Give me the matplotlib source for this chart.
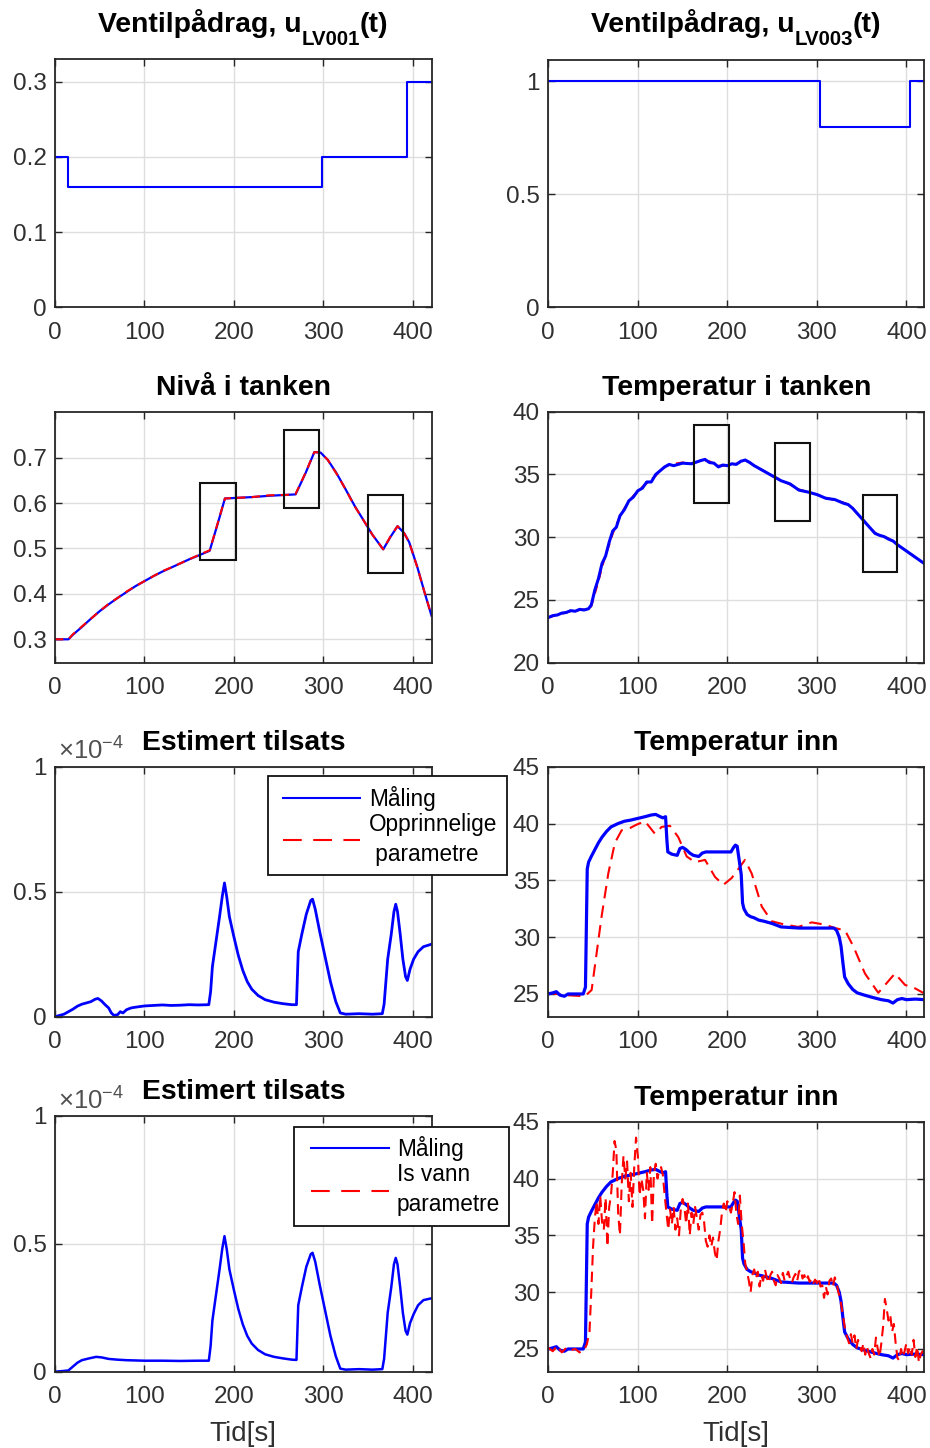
import matplotlib
matplotlib.use("Agg")
import matplotlib.pyplot as plt
import numpy as np
from matplotlib.ticker import FuncFormatter, FixedLocator
from matplotlib.patches import Rectangle
from matplotlib.lines import Line2D
from matplotlib.legend_handler import HandlerLine2D
import matplotlib.transforms as mtransforms

plt.rcParams['font.family'] = ['Liberation Sans', 'DejaVu Sans']
plt.rcParams['mathtext.fontset'] = 'custom'
plt.rcParams['mathtext.rm'] = 'Liberation Sans'
plt.rcParams['mathtext.bf'] = 'Liberation Sans:bold'
plt.rcParams['mathtext.it'] = 'Liberation Sans:italic'

# ---------------- data ----------------
xticks = [0, 100, 200, 300, 400]

title_u1 = ("Ventilpådrag, u", "LV001", "(t)")
title_u3 = ("Ventilpådrag, u", "LV003", "(t)")

u1_times = [0, 15, 298, 394, 421]
u1_vals = [0.2, 0.16, 0.2, 0.3, 0.3]
u3_times = [0, 304, 404, 420]
u3_vals = [1.0, 0.8, 1.0, 1.0]

level_t = [0, 15, 20, 30, 40, 50, 60, 70, 80, 90, 100, 110, 120, 130, 140, 150, 160, 173,
           182, 190, 200, 220, 240, 260, 269, 280, 290, 297, 305, 315, 325, 335, 345, 355,
           367, 375, 383, 390, 396, 405, 413, 421]
level_meas = [0.300, 0.300, 0.310, 0.327, 0.345, 0.362, 0.377, 0.391, 0.404, 0.417, 0.428,
              0.439, 0.449, 0.458, 0.467, 0.476, 0.484, 0.495, 0.555, 0.610, 0.611, 0.613,
              0.616, 0.618, 0.619, 0.665, 0.712, 0.711, 0.695, 0.665, 0.630, 0.594, 0.562,
              0.530, 0.498, 0.525, 0.549, 0.535, 0.514, 0.460, 0.405, 0.352]
level_sim = [0.300, 0.300, 0.311, 0.328, 0.345, 0.362, 0.378, 0.391, 0.405, 0.417, 0.428,
             0.439, 0.450, 0.458, 0.467, 0.476, 0.485, 0.496, 0.556, 0.610, 0.611, 0.613,
             0.617, 0.618, 0.620, 0.666, 0.712, 0.711, 0.695, 0.664, 0.630, 0.593, 0.562,
             0.530, 0.498, 0.526, 0.549, 0.535, 0.514, 0.459, 0.405, 0.352]
level_rect_x = [(162, 202), (256, 295), (350, 389)]
level_rect_y = [(0.475, 0.645), (0.59, 0.76), (0.447, 0.618)]

tank_t = [0, 5, 10, 15, 20, 25, 30, 35, 40, 45, 48, 52, 56, 60, 64, 68, 72, 76, 80, 85, 90,
          95, 100, 105, 110, 115, 120, 125, 130, 135, 140, 150, 160, 170, 175, 180, 185, 190,
          195, 200, 205, 210, 215, 220, 225, 230, 240, 250, 260, 270, 280, 290, 300, 310,
          320, 330, 335, 340, 345, 350, 355, 360, 365, 370, 375, 380, 385, 390, 400, 410, 420]
tank_meas = [23.6, 23.75, 23.8, 23.95, 24.0, 24.15, 24.1, 24.25, 24.2, 24.3, 24.6, 25.8, 26.7,
             27.9, 28.5, 29.6, 30.5, 30.8, 31.7, 32.2, 32.9, 33.2, 33.7, 33.9, 34.4, 34.4,
             35.0, 35.3, 35.6, 35.8, 35.7, 35.9, 35.85, 36.1, 36.2, 35.95, 35.9, 35.6, 35.75,
             35.7, 35.85, 35.8, 36.05, 36.15, 35.95, 35.7, 35.3, 34.9, 34.5, 34.25, 33.75,
             33.6, 33.4, 33.1, 33.0, 32.7, 32.6, 32.3, 31.9, 31.5, 31.1, 30.7, 30.3, 30.15,
             30.05, 29.85, 29.7, 29.4, 28.9, 28.4, 27.9]
tank_sim = [23.6, 23.7, 23.85, 23.9, 24.0, 24.1, 24.15, 24.2, 24.25, 24.3, 24.5, 25.5, 26.5,
            27.6, 28.6, 29.4, 30.3, 31.0, 31.6, 32.3, 32.8, 33.3, 33.6, 34.0, 34.3, 34.6,
            34.9, 35.3, 35.6, 35.75, 35.85, 35.95, 35.9, 36.05, 36.1, 36.05, 35.85, 35.7,
            35.7, 35.75, 35.8, 35.85, 36.0, 36.1, 35.95, 35.7, 35.3, 34.9, 34.55, 34.2, 33.8,
            33.6, 33.4, 33.15, 32.95, 32.75, 32.6, 32.3, 31.9, 31.5, 31.1, 30.7, 30.35, 30.15,
            30.05, 29.9, 29.65, 29.4, 28.9, 28.4, 27.9]
tank_rect_x = [(162.6, 201.7), (253, 292), (351.6, 389.9)]
tank_rect_y = [(32.75, 38.94), (31.29, 37.48), (27.2, 33.36)]

# estimated additive, units of 1e-4
tilsats_scale = 1e-4
tils1_t = [0, 5, 10, 15, 20, 25, 30, 35, 40, 45, 48, 52, 56, 60, 63, 66, 70, 73, 76, 80, 85,
           90, 100, 110, 120, 130, 140, 150, 160, 172, 174, 176, 180, 184, 187, 189.5, 192,
           195, 200, 205, 210, 215, 220, 227, 235, 245, 255, 265, 270, 272, 276, 281, 286,
           288, 291, 296, 302, 308, 314, 319, 325, 340, 355, 366, 368, 372, 376, 379, 381,
           383, 386, 389, 392, 394, 397, 401, 406, 412, 421]
tils1_v = [0.0, 0.005, 0.01, 0.02, 0.03, 0.042, 0.05, 0.055, 0.06, 0.07, 0.073, 0.063, 0.048,
           0.035, 0.015, 0.005, 0.008, 0.02, 0.015, 0.028, 0.035, 0.038, 0.043, 0.045, 0.047,
           0.045, 0.046, 0.048, 0.047, 0.048, 0.1, 0.2, 0.3, 0.4, 0.48, 0.535, 0.48, 0.4,
           0.32, 0.245, 0.185, 0.14, 0.11, 0.085, 0.068, 0.058, 0.052, 0.048, 0.048, 0.26,
           0.33, 0.41, 0.465, 0.47, 0.43, 0.34, 0.24, 0.14, 0.06, 0.015, 0.01, 0.012, 0.01,
           0.012, 0.05, 0.23, 0.33, 0.42, 0.45, 0.42, 0.33, 0.23, 0.16, 0.145, 0.19, 0.23,
           0.26, 0.28, 0.29]
tils2_t = [0, 10, 15, 20, 25, 30, 38, 46, 52, 60, 70, 80, 90, 100, 120, 140, 160, 172, 174,
           176, 180, 184, 187, 189.5, 192, 195, 200, 205, 210, 215, 220, 227, 235, 245, 255,
           265, 270, 272, 276, 281, 286, 288, 291, 296, 302, 308, 314, 319, 325, 340, 355,
           366, 368, 372, 376, 379, 381, 383, 386, 389, 392, 394, 397, 401, 406, 412, 421]
tils2_v = [0.0, 0.003, 0.005, 0.02, 0.035, 0.045, 0.052, 0.058, 0.056, 0.05, 0.047, 0.045,
           0.044, 0.043, 0.043, 0.042, 0.043, 0.043, 0.1, 0.2, 0.3, 0.4, 0.48, 0.53, 0.48,
           0.4, 0.32, 0.245, 0.185, 0.14, 0.11, 0.085, 0.068, 0.058, 0.052, 0.047, 0.046,
           0.26, 0.33, 0.41, 0.46, 0.465, 0.43, 0.34, 0.24, 0.14, 0.06, 0.012, 0.008, 0.01,
           0.008, 0.01, 0.05, 0.23, 0.33, 0.42, 0.445, 0.42, 0.33, 0.23, 0.16, 0.145, 0.19,
           0.225, 0.26, 0.28, 0.287]

tin_t = [0, 5, 9, 13, 18, 22, 30, 39, 41.5, 43.5, 45, 48, 52, 56, 60, 65, 70, 78, 85, 92, 100,
         108, 115, 120, 125, 128, 131, 132.5, 133.5, 138, 144, 147, 150, 154, 158, 162, 168,
         172, 176, 185, 195, 204, 207, 209, 211, 213, 215.5, 217, 218.5, 222, 226, 230, 235,
         241, 250, 260, 270, 280, 290, 300, 310, 319, 322, 325, 327, 329, 331, 335, 340, 345,
         353, 362, 372, 380, 385, 390, 395, 400, 410, 420]
tin_meas = [25.0, 25.1, 25.2, 24.9, 24.8, 25.0, 25.0, 25.0, 25.6, 36.0, 36.6, 37.1, 37.7,
            38.3, 38.8, 39.3, 39.7, 40.0, 40.2, 40.3, 40.45, 40.6, 40.75, 40.8, 40.6, 40.5,
            40.6, 38.5, 37.5, 37.3, 37.2, 37.8, 37.9, 37.7, 37.4, 37.2, 37.1, 37.4, 37.5,
            37.5, 37.5, 37.5, 37.9, 38.1, 38.0, 36.9, 35.5, 33.0, 32.5, 32.0, 31.8, 31.7,
            31.5, 31.4, 31.2, 30.9, 30.85, 30.8, 30.8, 30.8, 30.8, 30.8, 30.6, 30.0, 29.2,
            27.8, 26.5, 25.9, 25.4, 25.1, 24.9, 24.7, 24.5, 24.4, 24.2, 24.5, 24.6, 24.5,
            24.55, 24.5]

tin_orig_t = [0, 18.6, 40.9, 48.4, 54, 59.5, 67, 74.4, 81.9, 91.2, 98.6, 108, 119.1, 126.6,
              135.9, 145.2, 154.6, 163.9, 175.1, 186.2, 195.5, 204.8, 210.4, 219.7, 227.2,
              238.4, 249.5, 264.4, 279.3, 294.2, 309.1, 320.2, 331.4, 340.7, 353.7, 368.6,
              387.2, 398.4, 409.5, 419.9]
tin_orig_v = [25.1, 24.9, 24.8, 25.35, 28.6, 31.8, 35.6, 38.3, 39.4, 39.6, 39.9, 40.2, 39.1,
              39.7, 39.8, 38.8, 37.1, 36.6, 36.8, 35.3, 34.6, 35.2, 35.8, 36.8, 35.6, 32.7,
              31.4, 31.1, 30.9, 31.3, 31.1, 30.8, 30.6, 29.2, 26.8, 25.1, 26.8, 25.8, 25.5,
              25.05]

tin_ice_t = list(range(0, 41, 5)) + [43, 46, 48] + list(range(50, 421, 2))
tin_ice_v = [25.1, 24.8, 25.3, 24.7, 25.1, 24.9, 25.0, 24.7, 24.9, 25.4, 26.5, 30.0,
             34.0, 36.5, 38.0, 36.0, 38.5, 36.2, 35.5, 38.3, 34.0, 37.5, 38.5, 40.5, 43.3,
             42.5, 37.0, 35.0, 39.5, 42.0, 40.0, 41.5, 38.0, 40.5, 37.5, 41.0, 43.6, 42.0,
             38.5, 40.0, 39.0, 36.5, 40.5, 39.0, 41.0, 36.0, 40.5, 41.3, 40.0, 40.8, 41.0,
             40.3, 38.5, 37.0, 35.5, 37.3, 36.0, 37.5, 35.5, 36.5, 35.0, 37.3, 38.2, 37.5,
             36.0, 37.8, 35.0, 37.0, 36.0, 37.5, 36.5, 35.5, 36.8, 37.0, 36.2, 34.5, 34.0,
             35.0, 34.0, 34.8, 33.5, 32.8, 34.5, 35.5, 37.0, 37.8, 37.0, 38.0, 37.5, 37.0,
             37.8, 38.8, 37.0, 36.0, 38.5, 36.0, 34.5, 32.5, 31.8, 31.0, 30.0, 31.5, 32.0,
             31.2, 31.8, 30.5, 31.5, 31.0, 32.0, 31.3, 30.8, 31.5, 31.8, 31.0, 30.6, 31.5,
             31.2, 30.8, 31.7, 31.0, 31.4, 31.8, 31.2, 30.8, 31.3, 31.6, 31.0, 31.8, 32.0,
             31.2, 31.5, 31.0, 31.4, 30.9, 31.2, 30.8, 31.1, 30.8, 31.3, 30.5, 30.6, 29.5,
             30.5, 29.8, 31.0, 31.2, 30.5, 31.3, 30.8, 30.0, 29.5, 28.5, 27.5, 26.5, 26.0,
             25.5, 26.3, 25.5, 26.2, 25.0, 25.8, 25.3, 24.8, 25.5, 24.5, 25.2, 24.6, 24.2,
             25.0, 24.5, 26.0, 25.0, 24.3, 25.5, 27.0, 29.4, 28.5, 27.5, 28.0, 26.5, 27.2,
             25.5, 24.2, 24.0, 25.0, 24.3, 24.8, 25.5, 24.6, 25.2, 24.5, 25.8, 24.3, 25.2,
             23.8, 24.5, 24.8, 24.6]

legend1_labels = ["Måling", "Opprinnelige\n parametre"]
legend2_labels = ["Måling", "Is vann\nparametre"]

# ---------------- style ----------------
W, H = 930, 1448
BLUE = '#0000ff'
RED = '#ff0000'
SPINE = '#262626'
TICKC = '#303030'
GRID = '#dedede'
TICK_FS = 17.5
TITLE_FS = 20.4
LEG_FS = 16.3

fig = plt.figure(figsize=(W / 100, H / 100), dpi=100)
renderer = fig.canvas.get_renderer()


def px_axes(left, top, right, bottom):
    return fig.add_axes([left / W, 1 - bottom / H, (right - left) / W, (bottom - top) / H])


def style(ax, xlim, ylim, yticks, title=None, pad=12, yfmt=None):
    ax.set_xlim(*xlim)
    ax.set_ylim(*ylim)
    ax.xaxis.set_major_locator(FixedLocator(xticks))
    ax.yaxis.set_major_locator(FixedLocator(yticks))
    ax.xaxis.set_major_formatter(FuncFormatter(lambda v, p: f"{v:g}"))
    ax.yaxis.set_major_formatter(yfmt or FuncFormatter(lambda v, p: f"{v:g}"))
    ax.grid(True, color=GRID, lw=1.0)
    ax.set_axisbelow(True)
    ax.tick_params(direction='in', length=5, width=1, top=True, right=True,
                   labelsize=TICK_FS, colors=SPINE, labelcolor=TICKC)
    ax.tick_params(axis='x', pad=10.5)
    ax.tick_params(axis='y', pad=6)
    for s in ax.spines.values():
        s.set_color(SPINE)
        s.set_linewidth(1.3)
    if title:
        ax.set_title(title, fontsize=TITLE_FS, fontweight='bold', pad=pad, color='#000000')


def sub_title(ax, parts, base_above=27, sub_drop=13, sub_fs=14.7):
    pos = ax.get_position()
    cx = (pos.x0 + pos.x1) / 2 * W
    base = pos.y1 * H + base_above
    items = []
    for i, s in enumerate(parts):
        fs = sub_fs if i == 1 else TITLE_FS
        drop = sub_drop if i == 1 else 0
        t = fig.text(0, 0, s, fontsize=fs, fontweight='bold', color='#000000',
                     transform=mtransforms.IdentityTransform(), ha='left', va='baseline')
        items.append((t, drop))
    widths = [t.get_window_extent(renderer).width for t, _ in items]
    x = cx - sum(widths) / 2
    for (t, drop), w in zip(items, widths):
        t.set_position((x, base - drop))
        x += w


XL_L = (0, 421)
XL_R = (0, 420)

# Row 1
ax = px_axes(55, 59, 431.5, 307.3)
ax.step(u1_times, u1_vals, where='post', color=BLUE, lw=1.5)
style(ax, XL_L, (0, 0.33), [0, 0.1, 0.2, 0.3])
sub_title(ax, title_u1)

ax = px_axes(548.3, 60, 924.3, 307)
ax.step(u3_times, u3_vals, where='post', color=BLUE, lw=1.5)
style(ax, XL_R, (0, 1.095), [0, 0.5, 1])
sub_title(ax, title_u3, base_above=28)

# Row 2
ax = px_axes(55, 411.7, 431.5, 662.7)
ax.plot(level_t, level_meas, color=BLUE, lw=1.6)
ax.plot(level_t, level_sim, color=RED, lw=1.5, ls=(0, (4, 3)))
for (x0, x1), (y0, y1) in zip(level_rect_x, level_rect_y):
    ax.add_patch(Rectangle((x0, y0), x1 - x0, y1 - y0, fill=False, ec='#111111', lw=1.5, zorder=5))
style(ax, XL_L, (0.2485, 0.801), [0.3, 0.4, 0.5, 0.6, 0.7], 'Nivå i tanken')

ax = px_axes(548.3, 411.7, 924.3, 662.7)
ax.plot(tank_t, tank_sim, color=RED, lw=1.5, ls=(0, (4, 3)))
ax.plot(tank_t, tank_meas, color=BLUE, lw=2.2)
for (x0, x1), (y0, y1) in zip(tank_rect_x, tank_rect_y):
    ax.add_patch(Rectangle((x0, y0), x1 - x0, y1 - y0, fill=False, ec='#111111', lw=1.5, zorder=5))
style(ax, XL_R, (20, 40), [20, 25, 30, 35, 40], 'Temperatur i tanken')

sci_fmt = FuncFormatter(lambda v, p: f"{v / tilsats_scale:g}")


def add_sci(ax):
    tr = mtransforms.offset_copy(ax.transAxes, fig=fig, x=0, y=4.8, units='points')
    ax.text(0.009, 1.0, r'$\times\mathregular{10^{-4}}$', transform=tr, ha='left', va='baseline',
            fontsize=18.5, color='#505050')


def add_legend(ax, labels, x_px, y_px, xpad, hlen, tpad):
    h = [Line2D([], [], color=BLUE, lw=1.5),
         Line2D([], [], color=RED, lw=1.5, ls=(0, (9, 5.5)))]
    hm = {h[0]: HandlerLine2D(xpad=xpad, marker_pad=0),
          h[1]: HandlerLine2D(xpad=xpad, marker_pad=0)}
    leg = ax.legend(h, labels, handler_map=hm, loc='upper left',
                    bbox_to_anchor=(x_px / W, 1 - y_px / H),
                    bbox_transform=fig.transFigure, fontsize=LEG_FS, frameon=True,
                    fancybox=False, framealpha=1, edgecolor='#111111', borderaxespad=0,
                    handlelength=hlen, handletextpad=tpad, borderpad=0.42, labelspacing=0.1)
    leg.get_frame().set_linewidth(1.3)
    for t in leg.get_texts():
        t.set_linespacing(1.38)
    leg.set_zorder(20)


# Row 3
ax = px_axes(55, 766.7, 431.5, 1016.7)
ax.plot(tils1_t, np.array(tils1_v) * tilsats_scale, color=BLUE, lw=2.0)
style(ax, XL_L, (0, 1e-4), [0, 0.5e-4, 1e-4], 'Estimert tilsats', yfmt=sci_fmt)
add_sci(ax)
add_legend(ax, legend1_labels, 267.7, 776, xpad=0.24, hlen=3.65, tpad=0.4)

ax = px_axes(548.3, 766.7, 924.3, 1016.7)
ax.plot(tin_orig_t, tin_orig_v, color=RED, lw=1.5, ls=(0, (6, 3.5)))
ax.plot(tin_t, tin_meas, color=BLUE, lw=2.3)
style(ax, XL_R, (23, 45), [25, 30, 35, 40, 45], 'Temperatur inn')

# Row 4
ax = px_axes(55, 1116, 431.5, 1371.7)
ax.plot(tils2_t, np.array(tils2_v) * tilsats_scale, color=BLUE, lw=1.8)
style(ax, XL_L, (0, 1e-4), [0, 0.5e-4, 1e-4], 'Estimert tilsats', yfmt=sci_fmt)
add_sci(ax)
add_legend(ax, legend2_labels, 294.3, 1126.7, xpad=0.33, hlen=3.77, tpad=0.33)
ax.set_xlabel('Tid[s]', fontsize=20, color=TICKC, labelpad=9)

ax = px_axes(548.3, 1121.7, 924.3, 1371.7)
ax.plot(tin_t, tin_meas, color=BLUE, lw=2.3)
ax.plot(tin_ice_t, tin_ice_v, color=RED, lw=1.5, ls=(0, (5, 3)))
style(ax, XL_R, (23, 45), [25, 30, 35, 40, 45], 'Temperatur inn')
ax.set_xlabel('Tid[s]', fontsize=20, color=TICKC, labelpad=9)

fig.savefig('out.png', dpi=100)
